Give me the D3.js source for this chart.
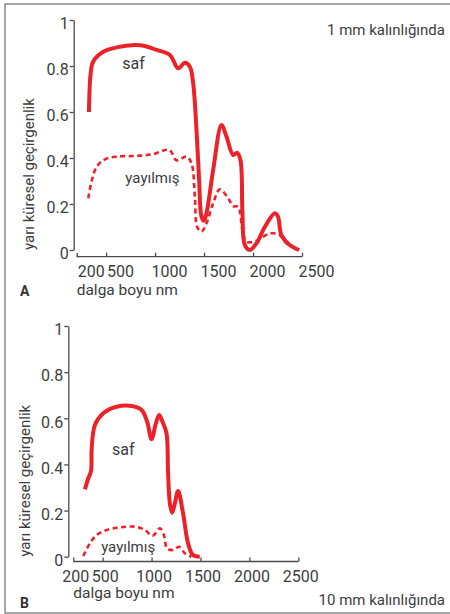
<!DOCTYPE html>
<html>
<head>
<meta charset="utf-8">
<script src="https://cdn.jsdelivr.net/npm/d3@7"></script>
<style>
  body { margin: 0; background: #fff; }
  svg text { font-family: Roboto, "Liberation Sans", sans-serif; fill: #3d3d3d; }
  .axis path, .axis line { stroke: #4a4a4a; stroke-width: 1.3; }
</style>
</head>
<body>
<div class="figure"></div>
<script>
// tick labels
const xTicks = [200, 500, 1000, 1500, 2000, 2500];
const yTicks = [0, 0.2, 0.4, 0.6, 0.8, 1];

// panel A (1 mm) - [dalga boyu nm, geçirgenlik]
const safA = [
  [325, 0.60], [343, 0.77], [369, 0.82], [471, 0.862], [608, 0.881], [794, 0.891],
  [896, 0.887], [1015, 0.870], [1151, 0.848], [1236, 0.790], [1304, 0.814], [1355, 0.797],
  [1389, 0.725], [1423, 0.52], [1450, 0.30], [1474, 0.145], [1498, 0.127], [1525, 0.16],
  [1593, 0.348], [1678, 0.543], [1729, 0.493], [1797, 0.413], [1837, 0.423], [1872, 0.39],
  [1892, 0.16], [1916, 0.022], [1967, 0.0], [2035, 0.029], [2120, 0.10], [2222, 0.16],
  [2255, 0.145], [2290, 0.065], [2375, 0.022], [2470, 0.0]
];
const yayilmisA = [
  [318, 0.225], [353, 0.30], [404, 0.362], [489, 0.394], [608, 0.406], [812, 0.409],
  [981, 0.417], [1144, 0.435], [1219, 0.39], [1321, 0.406], [1372, 0.377], [1406, 0.232],
  [1430, 0.10], [1474, 0.08], [1525, 0.116], [1593, 0.203], [1661, 0.264], [1746, 0.225],
  [1797, 0.191], [1848, 0.188], [1892, 0.087], [1933, 0.036], [2035, 0.04], [2171, 0.072],
  [2273, 0.065], [2341, 0.029], [2470, 0.0]
];

// panel B (10 mm)
const safB = [
  [319, 0.292], [353, 0.34], [381, 0.371], [388, 0.47], [421, 0.571], [506, 0.622],
  [643, 0.65], [796, 0.653], [898, 0.636], [955, 0.585], [1000, 0.509], [1044, 0.578],
  [1078, 0.614], [1118, 0.578], [1153, 0.535], [1169, 0.361], [1187, 0.231], [1210, 0.191],
  [1238, 0.231], [1271, 0.285], [1322, 0.188], [1373, 0.058], [1424, 0.007], [1493, 0.0]
];
const yayilmisB = [
  [302, 0.003], [370, 0.058], [439, 0.094], [541, 0.116], [677, 0.127], [830, 0.13],
  [932, 0.116], [1010, 0.091], [1085, 0.123], [1126, 0.094], [1159, 0.036], [1220, 0.029],
  [1282, 0.043], [1340, 0.015], [1408, 0.0]
];

const red = '#ec2229';

const svg = d3.select('.figure')
  .append('svg')
  .attr('width', 450)
  .attr('height', 614);

// frame
svg.append('rect')
  .attr('x', 5).attr('y', 4)
  .attr('width', 460).attr('height', 609)
  .attr('fill', 'none')
  .attr('stroke', '#8a8a8a')
  .attr('stroke-width', 1.5);

const drawPanel = (p) => {
  const x = d3.scaleLinear().domain([200, 2500]).range([p.x0, p.x1]);
  const y = d3.scaleLinear().domain([0, 1]).range([p.y0, p.y1]);

  // y axis
  const yAxisGroup = svg.append('g')
    .attr('class', 'axis')
    .attr('transform', `translate(${p.yAxisX}, 0)`)
    .call(d3.axisLeft(y).tickValues(yTicks).tickSizeInner(4).tickSizeOuter(0).tickPadding(1)
      .tickFormat(d => String(d)));
  yAxisGroup.selectAll('text')
    .attr('font-size', 16)
    .attr('dy', '0.55em');

  // x axis, ticks pointing up
  const xAxisGroup = svg.append('g')
    .attr('class', 'axis')
    .attr('transform', `translate(0, ${p.xAxisY})`)
    .call(d3.axisBottom(x).tickValues(xTicks).tickSizeInner(-4).tickSizeOuter(0)
      .tickFormat(d => String(d)));
  xAxisGroup.selectAll('text')
    .attr('font-size', 16)
    .attr('x', p.labelShift)
    .attr('y', 20)
    .attr('dy', 0);
  xAxisGroup.select('.domain').attr('d', `M${p.x0},0H${p.x1}`);

  const line = d3.line()
    .x(d => x(d[0]))
    .y(d => y(d[1]))
    .curve(d3.curveCatmullRom.alpha(0.5));

  svg.append('path')
    .datum(p.saf)
    .attr('d', line)
    .attr('fill', 'none')
    .attr('stroke', red)
    .attr('stroke-width', 4)
    .attr('stroke-linejoin', 'round');

  svg.append('path')
    .datum(p.yay)
    .attr('d', line)
    .attr('fill', 'none')
    .attr('stroke', red)
    .attr('stroke-width', 2.6)
    .attr('stroke-dasharray', '5,3.5');

  // curve labels
  svg.append('text')
    .attr('x', x(p.safLabel[0])).attr('y', y(p.safLabel[1]))
    .attr('text-anchor', 'middle')
    .attr('font-size', 16)
    .text('saf');
  svg.append('text')
    .attr('x', x(p.yayLabel[0])).attr('y', y(p.yayLabel[1]))
    .attr('text-anchor', 'middle')
    .attr('font-size', 15)
    .text('yayılmış');

  // axis titles
  svg.append('text')
    .attr('transform', `translate(${p.yTitleX}, ${p.y0}) rotate(-90)`)
    .attr('text-anchor', 'start')
    .attr('font-size', 15)
    .text('yarı küresel geçirgenlik');
  svg.append('text')
    .attr('x', p.x0).attr('y', p.xTitleY)
    .attr('font-size', 15.5)
    .text('dalga boyu nm');

  svg.append('text')
    .attr('x', 20).attr('y', p.letterY)
    .attr('font-size', 14)
    .attr('font-weight', 'bold')
    .style('fill', '#333')
    .text(p.letter);

  svg.append('text')
    .attr('x', 445).attr('y', p.noteY)
    .attr('text-anchor', 'end')
    .attr('font-size', 15)
    .text(p.note);
};

drawPanel({
  saf: safA, yay: yayilmisA,
  x0: 76.7, x1: 302, y0: 250, y1: 20,
  yAxisX: 73.7, xAxisY: 256.7, labelShift: 14,
  safLabel: [780, 0.785], yayLabel: [973, 0.293],
  yTitleX: 34, xTitleY: 295,
  letter: 'A', letterY: 296,
  note: '1 mm kalınlığında', noteY: 35
});

drawPanel({
  saf: safB, yay: yayilmisB,
  x0: 73.3, x1: 298.3, y0: 556.7, y1: 326,
  yAxisX: 68.3, xAxisY: 561.5, labelShift: 2,
  safLabel: [710, 0.44], yayLabel: [761, 0.02],
  yTitleX: 30, xTitleY: 598,
  letter: 'B', letterY: 608,
  note: '10 mm kalınlığında', noteY: 605
});
</script>
</body>
</html>
